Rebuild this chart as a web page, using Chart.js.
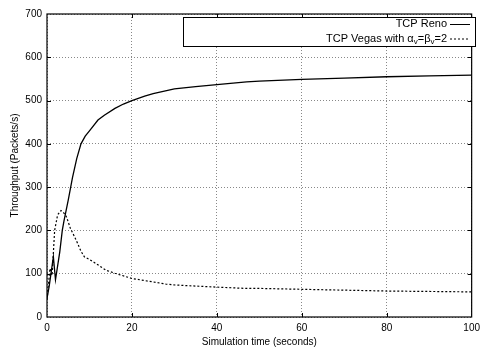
<!DOCTYPE html>
<html>
<head>
<meta charset="utf-8">
<script src="https://cdn.jsdelivr.net/npm/chart.js@4/dist/chart.umd.min.js"></script>
<style>
html,body{margin:0;padding:0;background:#fff;}
#wrap{width:485px;height:351px;}
</style>
</head>
<body>
<div id="wrap"><canvas id="c" width="485" height="351"></canvas></div>
<script>
// Data
const renoX = [0, 0.5, 1.5, 2, 3, 3.6, 4, 5, 6, 7, 8, 9, 10, 12, 13.5, 16, 18, 20, 23, 25, 30, 35, 40, 47, 50, 60, 70, 80, 90, 100];
const renoY = [43, 70, 139, 86, 150, 200, 222, 270, 322, 366, 400, 418, 430, 455, 466, 482, 492, 500, 510, 516, 527, 532, 537, 543, 545, 549, 552, 555, 557, 559];
const vegasX = [0, 0.7, 1.2, 1.8, 2.5, 3.3, 4, 4.6, 5.5, 6.9, 8, 8.8, 10, 11.6, 13.9, 16, 20, 25, 28, 30, 40, 47, 50, 60, 70, 80, 90, 100];
const vegasY = [40, 112, 96, 200, 236, 246, 240, 231, 205, 177, 152, 139, 133, 123, 108, 101, 89, 81, 76, 74, 69, 66, 66, 64, 62, 60, 59, 58];
const seriesNames = ["TCP Reno", "TCP Vegas with"];
const xTitle = "Simulation time (seconds)";
const yTitle = "Throughput (Packets/s)";
const xMin = 0, xMax = 100, xStep = 20;
const yMin = 0, yMax = 700, yStep = 100;

const FONT = "'Liberation Sans', Arial, Helvetica, sans-serif";

const framePlugin = {
  id: 'frame',
  afterDatasetsDraw(chart) {
    const ctx = chart.ctx;
    const a = chart.chartArea;
    const xs = chart.scales.x, ys = chart.scales.y;
    ctx.save();
    ctx.strokeStyle = '#000';
    ctx.lineWidth = 1.2;
    ctx.strokeRect(a.left, a.top, a.right - a.left, a.bottom - a.top);
    // inward ticks (mirror)
    ctx.lineWidth = 1;
    for (let v = xMin + xStep; v < xMax; v += xStep) {
      const px = Math.round(xs.getPixelForValue(v)) + 0.5;
      ctx.beginPath();
      ctx.moveTo(px, a.top); ctx.lineTo(px, a.top + 4);
      ctx.moveTo(px, a.bottom); ctx.lineTo(px, a.bottom - 4);
      ctx.stroke();
    }
    for (let v = yMin + yStep; v < yMax; v += yStep) {
      const py = Math.round(ys.getPixelForValue(v)) + 0.5;
      ctx.beginPath();
      ctx.moveTo(a.left, py); ctx.lineTo(a.left + 4, py);
      ctx.moveTo(a.right, py); ctx.lineTo(a.right - 4, py);
      ctx.stroke();
    }
    // legend box
    const bx = 183, by = 17, bw = 292, bh = 29;
    ctx.fillStyle = '#fff';
    ctx.fillRect(bx, by, bw, bh);
    ctx.strokeStyle = '#000';
    ctx.lineWidth = 1;
    ctx.strokeRect(bx + 0.5, by + 0.5, bw, bh);
    ctx.fillStyle = '#000';
    ctx.textBaseline = 'middle';
    ctx.font = '11px ' + FONT;
    const textRight = 447;
    const lx1 = 450, lx2 = 470;
    // Row 1
    ctx.textAlign = 'right';
    ctx.fillText(seriesNames[0], textRight, 24);
    ctx.beginPath(); ctx.setLineDash([]); ctx.lineWidth = 1;
    ctx.moveTo(lx1, 24.5); ctx.lineTo(lx2, 24.5); ctx.stroke();
    // Row 2 with subscripts: "TCP Vegas with α_v=β_v=2"
    const y2 = 38.5;
    const runs = [
      [seriesNames[1] + ' \u03b1', false],
      ['v', true],
      ['=\u03b2', false],
      ['v', true],
      ['=2', false]
    ];
    const fontN = '11px ' + FONT, fontS = '8px ' + FONT;
    let total = 0;
    runs.forEach(r => { ctx.font = r[1] ? fontS : fontN; total += ctx.measureText(r[0]).width; });
    let cx = textRight - total;
    ctx.textAlign = 'left';
    runs.forEach(r => {
      ctx.font = r[1] ? fontS : fontN;
      ctx.fillText(r[0], cx, r[1] ? y2 + 3 : y2);
      cx += ctx.measureText(r[0]).width;
    });
    ctx.beginPath(); ctx.setLineDash([2, 2]);
    ctx.moveTo(lx1, y2 + 0.5); ctx.lineTo(lx2, y2 + 0.5); ctx.stroke();
    ctx.restore();
  }
};

new Chart(document.getElementById('c'), {
  type: 'line',
  data: {
    datasets: [
      {
        label: seriesNames[0],
        data: renoX.map((x, i) => ({x: x, y: renoY[i]})),
        borderColor: '#000', borderWidth: 1.3, pointRadius: 0, fill: false, tension: 0
      },
      {
        label: seriesNames[1],
        data: vegasX.map((x, i) => ({x: x, y: vegasY[i]})),
        borderColor: '#000', borderWidth: 1.2, borderDash: [2, 2], pointRadius: 0, fill: false, tension: 0
      }
    ]
  },
  options: {
    responsive: false,
    animation: false,
    devicePixelRatio: 1,
    layout: { padding: { top: 14, right: 7, left: 0, bottom: 0 } },
    plugins: { legend: { display: false }, tooltip: { enabled: false } },
    scales: {
      x: {
        type: 'linear', min: xMin, max: xMax,
        afterFit(s) { s.height = 34; },
        ticks: { stepSize: xStep, padding: 5, color: '#000', font: { family: FONT, size: 10 }, maxRotation: 0 },
        grid: { color: '#888', lineWidth: 1, drawTicks: false },
        border: { display: false, dash: [1, 2] },
        title: { display: true, text: xTitle, color: '#000', font: { family: FONT, size: 10 }, padding: { top: 0, bottom: 3 } }
      },
      y: {
        type: 'linear', min: yMin, max: yMax,
        afterFit(s) { s.width = 47; },
        ticks: { stepSize: yStep, padding: 5, color: '#000', font: { family: FONT, size: 10 } },
        grid: { color: '#888', lineWidth: 1, drawTicks: false },
        border: { display: false, dash: [1, 2] },
        title: { display: true, text: yTitle, color: '#000', font: { family: FONT, size: 10 }, padding: { top: 9, bottom: 0 } }
      }
    }
  },
  plugins: [framePlugin]
});
</script>
</body>
</html>
